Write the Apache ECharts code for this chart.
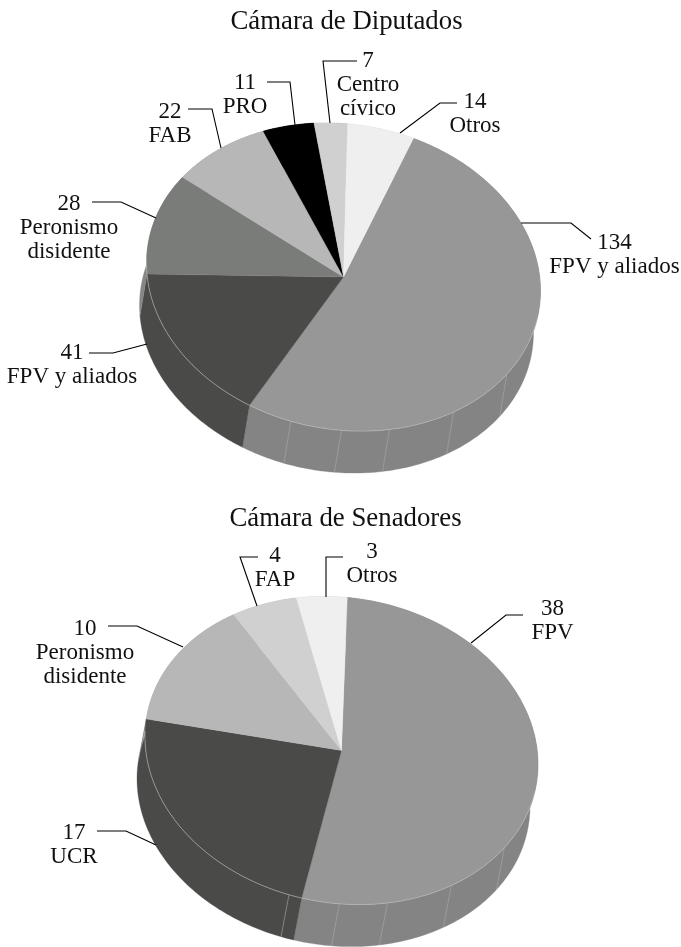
<!DOCTYPE html>
<html><head><meta charset="utf-8">
<style>html,body{margin:0;padding:0;background:#fff}#c{width:681px;height:947px}</style>
<script src="https://cdn.jsdelivr.net/npm/echarts@6/dist/echarts.min.js"></script>
</head><body><div id="c"></div>
<script>
// --- data ---
const diputadosNames = ['FPV y aliados','FPV y aliados','Peronismo\ndisidente','FAB','PRO','Centro\ncívico','Otros'];
const diputadosValues = [134,41,28,22,11,7,14];
const senadoresNames = ['FPV','UCR','Peronismo\ndisidente','FAP','Otros'];
const senadoresValues = [38,17,10,4,3];

// --- styling / layout ---
const FONT = '"Liberation Serif", serif';
const FS = 23;
const TITLE_FS = 26.8;
const LH = 24;
const facetAngles = [124,146,166.5,180.6,195.5];
const dipLayout = {
  cx:343.5, cy:277, rx:197, ry:153.5, k:0.07, dx:-7, dy:42, start:20.8,
  top:['#979797','#4a4a48','#7a7c7a','#b7b7b7','#000000','#d0d0d0','#efefef'],
  side:['#848484','#4a4a48','#858685','#a0a0a0','#000000','#b8b8b8','#d0d0d0'],
  labels:[
    {x:614.5,y:243,line:[[521,223],[571,223],[591,239]]},
    {x:72,y:353,line:[[89,353],[113,353],[147,344]]},
    {x:69,y:204,line:[[92,202],[121,202],[156,218]]},
    {x:170,y:112,line:[[188,109],[212,109],[221,148]]},
    {x:245,y:83,line:[[267,82],[290,82],[295,125]]},
    {x:368,y:61,line:[[357,61],[323,61],[330,123]]},
    {x:475,y:102,line:[[400,133],[440,103],[457,103]]}
  ]
};
const senLayout = {
  cx:341.5, cy:750.5, rx:196.5, ry:153.5, k:0.07, dx:-8, dy:42, start:1.7,
  top:['#979797','#4a4a48','#b7b7b7','#d0d0d0','#efefef'],
  side:['#848484','#4a4a48','#a0a0a0','#b8b8b8','#d0d0d0'],
  labels:[
    {x:552.5,y:609,line:[[471,643],[506,615],[523,615]]},
    {x:74,y:833,line:[[97,831],[126,831],[156,845]]},
    {x:85,y:629,line:[[108,626],[137,626],[183,647]]},
    {x:275,y:556,line:[[258,557],[240,557],[257,606]]},
    {x:372,y:552,line:[[343,557],[326,557],[326,597]]}
  ]
};

function pt(L,deg,sx,sy){
  const t=deg*Math.PI/180, s=Math.sin(t), c=Math.cos(t);
  return [L.cx+L.rx*s+(sx||0), L.cy-L.ry*c+L.k*L.rx*s+(sy||0)];
}
function arc(L,a,b,sx,sy){
  const out=[], n=Math.max(2,Math.ceil(Math.abs(b-a)));
  for(let i=0;i<=n;i++) out.push(pt(L,a+(b-a)*i/n,sx,sy));
  return out;
}
function ranges(values,L){
  const sum=values.reduce((p,v)=>p+v,0); let a=L.start;
  return values.map(v=>{const r=[a,a+v/sum*360];a=r[1];return r;});
}
function chamberSeries(names,values,L){
  const rows=values.map((v,i)=>[v,names[i]]);
  const rg=ranges(values,L);
  const base={type:'custom',coordinateSystem:'none',silent:true,animation:false,data:rows,clip:false};
  return [
    Object.assign({},base,{z:1,renderItem(p,api){
      const i=p.dataIndex, r=rg[i];
      const up=arc(L,r[0],r[1]), lo=arc(L,r[0],r[1],L.dx,L.dy).reverse();
      const ch=[{type:'polygon',shape:{points:up.concat(lo)},style:{fill:L.side[i],stroke:L.side[i],lineWidth:.3}}];
      facetAngles.forEach(f=>{
        const t=((f-L.start)%360+360)%360+L.start;
        if(t>r[0]&&t<r[1]){
          const a=pt(L,t), b=pt(L,t,L.dx,L.dy);
          ch.push({type:'line',shape:{x1:a[0],y1:a[1],x2:b[0],y2:b[1]},style:{stroke:'#a9a9a9',lineWidth:.6}});
        }
      });
      return {type:'group',children:ch};
    }}),
    Object.assign({},base,{z:2,renderItem(p,api){
      const i=p.dataIndex, r=rg[i];
      const ch=[{type:'polygon',shape:{points:[[L.cx,L.cy]].concat(arc(L,r[0],r[1]))},
        style:{fill:L.top[i],stroke:L.top[i],lineWidth:.3}}];
      const a=Math.max(r[0],100), b=Math.min(r[1],272);
      if(b>a) ch.push({type:'polyline',shape:{points:arc(L,a,b)},style:{fill:null,stroke:'#bdbdbd',lineWidth:.6}});
      return {type:'group',children:ch};
    }}),
    Object.assign({},base,{z:3,renderItem(p,api){
      const i=p.dataIndex, l=L.labels[i];
      const nm=String(api.value(1)).split('\n');
      const ch=[{type:'polyline',shape:{points:l.line},style:{fill:null,stroke:'#000',lineWidth:1.1}},
        {type:'text',style:{x:l.x,y:l.y,text:String(api.value(0)),font:FS+'px '+FONT,fill:'#111',align:'center',verticalAlign:'middle'}}];
      nm.forEach((t,j)=>ch.push({type:'text',style:{x:l.x,y:l.y+LH*(j+1),text:t,font:FS+'px '+FONT,fill:'#111',align:'center',verticalAlign:'middle'}}));
      return {type:'group',children:ch};
    }})
  ];
}
const chart=echarts.init(document.getElementById('c'),null,{renderer:'canvas'});
chart.setOption({
  backgroundColor:'#fff',animation:false,
  title:[
    {text:'Cámara de Diputados',left:341.5,top:3,textAlign:'center',textStyle:{fontFamily:FONT,fontSize:TITLE_FS,fontWeight:'normal',color:'#111'}},
    {text:'Cámara de Senadores',left:340.5,top:500,textAlign:'center',textStyle:{fontFamily:FONT,fontSize:TITLE_FS,fontWeight:'normal',color:'#111'}}
  ],
  series:chamberSeries(diputadosNames,diputadosValues,dipLayout).concat(chamberSeries(senadoresNames,senadoresValues,senLayout))
});
</script></body></html>
